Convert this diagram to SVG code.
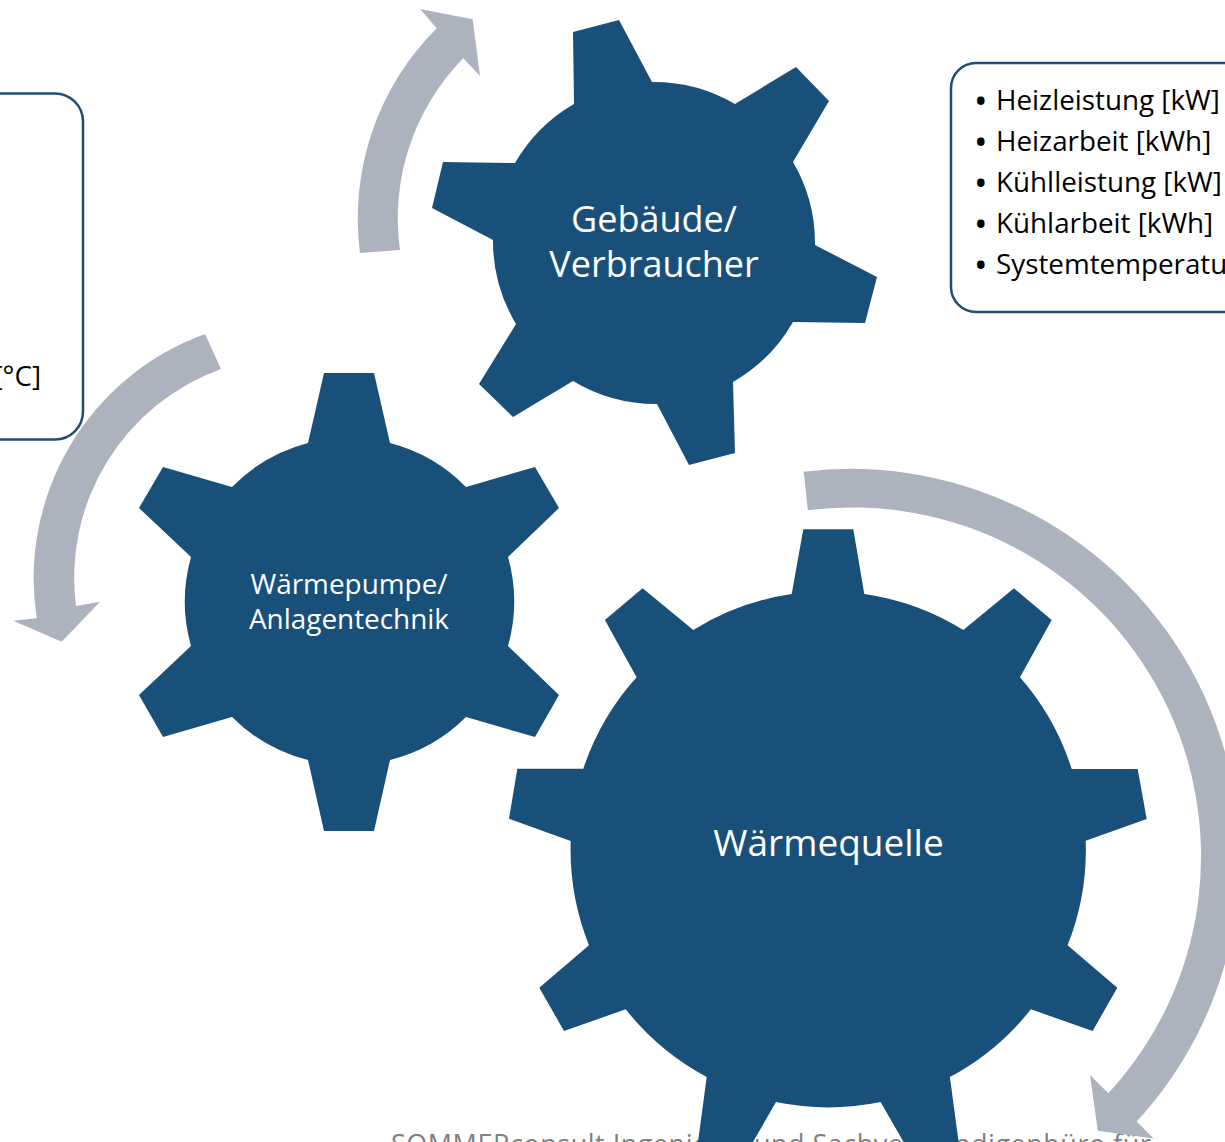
<svg xmlns="http://www.w3.org/2000/svg" width="1225" height="1142" viewBox="0 0 1225 1142">
<style>
.gear{fill:#18507A;}
.arrow{fill:#ADB3BE;}
.box{fill:#FFFFFF;stroke:#1F4E79;stroke-width:2.5;}
.gt{font-family:"Open Sans","Noto Sans",sans-serif;fill:#FFFFFF;text-anchor:middle;}
.bt{font-family:"Open Sans","Noto Sans",sans-serif;font-size:27.8px;fill:#000000;}
.bl{font-size:36px;}
.ft{font-family:"Open Sans","Noto Sans",sans-serif;font-size:27px;letter-spacing:0.5px;fill:#808080;}
</style>
<rect width="1225" height="1142" fill="#FFFFFF"/>
<g id="box-left">
<rect class="box" x="-40" y="93.5" width="123" height="346" rx="28" ry="28"/>
<text class="bt" x="41" y="386" text-anchor="end">[°C]</text>
</g>
<g id="box-right">
<rect class="box" x="951" y="63" width="320" height="249" rx="25" ry="25"/>
<text class="bt" x="974" y="109.5"><tspan class="bl" dy="4">•</tspan><tspan x="996" dy="-4">Heizleistung [kW]</tspan></text>
<text class="bt" x="974" y="150.5"><tspan class="bl" dy="4">•</tspan><tspan x="996" dy="-4">Heizarbeit [kWh]</tspan></text>
<text class="bt" x="974" y="191.5"><tspan class="bl" dy="4">•</tspan><tspan x="996" dy="-4">Kühlleistung [kW]</tspan></text>
<text class="bt" x="974" y="232.5"><tspan class="bl" dy="4">•</tspan><tspan x="996" dy="-4">Kühlarbeit [kWh]</tspan></text>
<text class="bt" x="974" y="273.5"><tspan class="bl" dy="4">•</tspan><tspan x="996" dy="-4">Systemtemperatur [°C]</tspan></text>
</g>
<text id="footer" class="ft" x="391" y="1154">SOMMERconsult Ingenieur- und Sachverständigenbüro für</text>
<g id="connectors">
<path class="arrow" d="M360,253 A268,268 0 0 1 436.7,28.3 L420,9 L472.7,19.3 L480,76 L463.3,58.3 A228,228 0 0 0 400,250 Z"/>
<path class="arrow" d="M205,334 A260,260 0 0 0 36.7,618.3 L13.3,620.7 L61.7,641.7 L100,601.7 L76,606 A222,222 0 0 1 221,369 Z"/>
<path class="arrow" d="M803.8,471.7 A389,389 0 0 1 1136.6,1121.6 L1153.6,1138.6 L1097.8,1130.8 L1090,1075 L1108.3,1093.3 A349,349 0 0 0 807.8,510.2 Z"/>
</g>
<g id="gear-gebaeude">
<path class="gear" d="M573,32 L619,20 L652,82 A161,161 0 0 1 735,104 L796,67 L829,101 L793,162 A161,161 0 0 1 815,245 L877,277 L865,323 L793,322 A161,161 0 0 1 733,382 L735,453 L689,465 L657,404 A161,161 0 0 1 573,381 L513,417 L479,384 L516,324 A161,161 0 0 1 493,240 L432,208 L443,162 L515,163 A161,161 0 0 1 574,104 Z"/>
<text class="gt" x="654" y="232" font-size="36">Gebäude/</text>
<text class="gt" x="654" y="277" font-size="36">Verbraucher</text>
</g>
<g id="gear-waermepumpe">
<path class="gear" d="M324,373 L374,373 L390,443 A164,164 0 0 1 466,487 L535,467 L559,508 L508,557 A164,164 0 0 1 508,646 L559,695 L535,737 L466,717 A164,164 0 0 1 390,760 L374,831 L324,831 L308,760 A164,164 0 0 1 232,717 L163,737 L139,695 L191,646 A164,164 0 0 1 191,557 L139,508 L163,467 L232,487 A164,164 0 0 1 308,443 Z"/>
<text class="gt" x="349" y="593.5" font-size="27.9">Wärmepumpe/</text>
<text class="gt" x="349" y="628.5" font-size="27.9">Anlagentechnik</text>
</g>
<g id="gear-waermequelle">
<path class="gear" d="M803.3,529.3 L853.3,529.3 L864.3,594 A258,258 0 0 1 963.3,630 L1014,588.3 L1051.7,620 L1020,677.3 A258,258 0 0 1 1071.7,769 L1137.7,769 L1146.7,819 L1085.7,840.7 A258,258 0 0 1 1067.6,945.3 L1117.3,987.7 L1092.6,1031 L1030.9,1009.3 A258,258 0 0 1 949.9,1077 L961.7,1165 L916.8,1165 L880.6,1102 A258,258 0 0 1 776,1102 L739.8,1165 L694.9,1165 L706.7,1077 A258,258 0 0 1 625.7,1009.3 L564,1031 L539.3,987.7 L589,945.3 A258,258 0 0 1 570.7,841 L509,818.7 L517.3,768.7 L583.3,768.7 A258,258 0 0 1 636.6,677.3 L604.9,620 L642.6,588.3 L693.3,630 A258,258 0 0 1 791.7,594 Z"/>
<text class="gt" x="828.5" y="856" font-size="37">Wärmequelle</text>
</g>
</svg>
